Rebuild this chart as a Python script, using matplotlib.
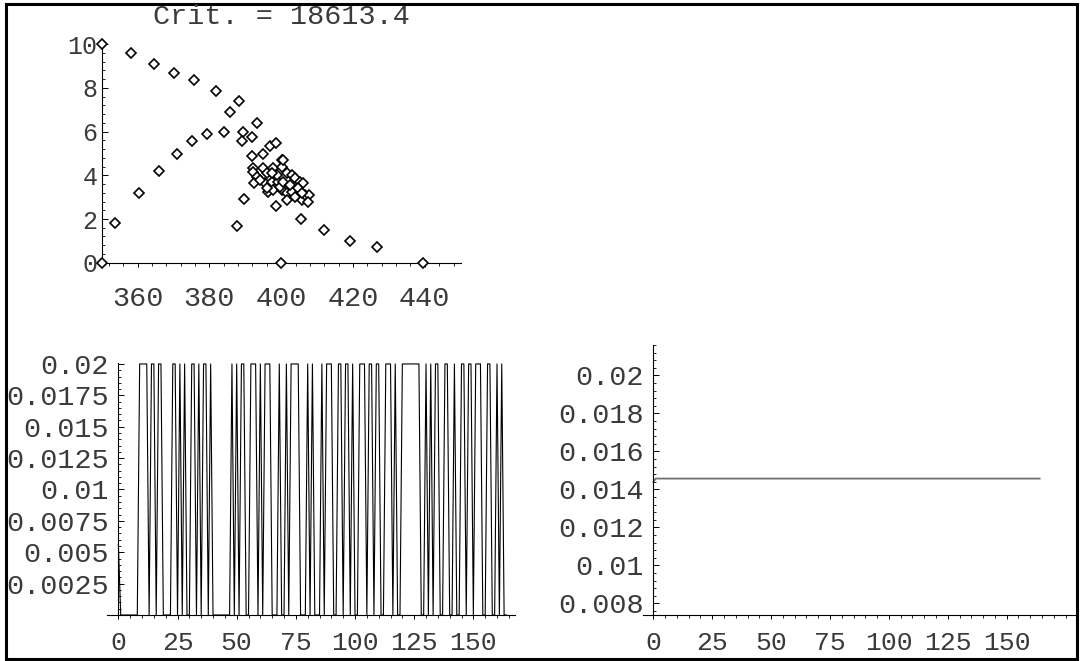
import matplotlib
matplotlib.use('Agg')
import matplotlib.pyplot as plt
from matplotlib.ticker import FixedLocator, MultipleLocator, FixedFormatter
from matplotlib.patches import Rectangle

# ---------------- data ----------------
crit_title = "Crit. = 18613.4"

scatter_x = [350.0, 358.1, 364.6, 370.1, 375.7, 381.8, 388.3, 393.2, 385.7, 384.1,
             379.2, 375.1, 370.9, 366.0, 360.5, 353.7, 350.0, 400.0, 439.5, 426.6,
             419.2, 411.9, 405.4, 398.6, 389.6, 387.6, 389.4, 389.0, 392.0, 396.9,
             398.6, 395.0, 392.0, 400.1,
             392.2, 392.2, 395.0, 393.2, 396.0, 397.8, 400.1, 400.6, 401.7, 402.9,
             403.8, 405.2, 406.2, 392.5, 395.5, 397.4, 396.4, 397.8, 399.2, 400.1,
             401.5, 402.9, 404.8, 405.7, 406.6, 407.8, 407.5, 401.5, 399.7, 398.7,
             397.4, 394.1, 396.0, 400.6, 402.5, 403.8, 405.7]
scatter_y = [10.0, 9.59, 9.08, 8.70, 8.37, 7.88, 7.40, 6.38, 6.88, 5.97,
             5.89, 5.59, 4.98, 4.18, 3.18, 1.80, 0.0, 0.0, 0.0, 0.70,
             1.01, 1.50, 2.00, 2.60, 2.90, 1.70, 6.00, 5.59, 5.77, 5.36,
             5.47, 4.98, 4.90, 4.70,
             4.35, 4.17, 4.32, 3.94, 4.09, 4.32, 4.40, 4.70, 4.09, 4.02,
             3.86, 3.71, 3.63, 3.63, 3.63, 3.71, 3.25, 3.33, 3.71, 3.33,
             3.18, 3.25, 3.41, 2.87, 3.10, 3.10, 2.79, 2.87, 3.48, 4.02,
             4.09, 3.79, 3.41, 3.71, 3.56, 3.02, 3.18]

scatter_xticks = [360, 380, 400, 420, 440]
scatter_yticks = [0, 2, 4, 6, 8, 10]

weights_left = [
    0.0056, 0, 0, 0, 0, 0, 0, 0, 0, 0.02,
    0.02, 0.02, 0.02, 0, 0.02, 0.02, 0, 0.02, 0.02, 0,
    0, 0, 0, 0.02, 0.02, 0, 0.02, 0, 0.02, 0,
    0, 0.02, 0.02, 0, 0.02, 0, 0.02, 0.02, 0, 0.02,
    0, 0, 0, 0, 0, 0, 0, 0, 0.02, 0,
    0.02, 0, 0.02, 0.02, 0, 0, 0.02, 0.02, 0.02, 0,
    0.02, 0, 0.02, 0.02, 0.02, 0, 0, 0, 0.02, 0,
    0, 0.02, 0, 0.02, 0.02, 0.02, 0.02, 0, 0, 0,
    0.02, 0, 0.02, 0, 0, 0, 0.02, 0, 0.02, 0.02,
    0.02, 0, 0, 0.02, 0.02, 0, 0.02, 0.02, 0, 0.02,
    0, 0, 0.02, 0.02, 0.02, 0, 0.02, 0.02, 0, 0.02,
    0.02, 0, 0, 0.02, 0.02, 0.02, 0, 0.02, 0, 0,
    0.02, 0.02, 0.02, 0.02, 0.02, 0.02, 0.02, 0.02, 0, 0,
    0.02, 0, 0.02, 0, 0.02, 0.02, 0, 0, 0.02, 0.02,
    0, 0, 0.02, 0, 0, 0.02, 0.02, 0, 0.02, 0.02,
    0, 0.02, 0.02, 0.02, 0, 0, 0.02, 0.02, 0, 0,
    0.02, 0, 0.02, 0, 0]

weights_right = [
    0.01439, 0.01457, 0.01457, 0.01457, 0.01457, 0.01457, 0.01457, 0.01457, 0.01457, 0.01457,
    0.01457, 0.01457, 0.01457, 0.01457, 0.01457, 0.01457, 0.01457, 0.01457, 0.01457, 0.01457,
    0.01457, 0.01457, 0.01457, 0.01457, 0.01457, 0.01457, 0.01457, 0.01457, 0.01457, 0.01457,
    0.01457, 0.01457, 0.01457, 0.01457, 0.01457, 0.01457, 0.01457, 0.01457, 0.01457, 0.01457,
    0.01457, 0.01457, 0.01457, 0.01457, 0.01457, 0.01457, 0.01457, 0.01457, 0.01457, 0.01457,
    0.01457, 0.01457, 0.01457, 0.01457, 0.01457, 0.01457, 0.01457, 0.01457, 0.01457, 0.01457,
    0.01457, 0.01457, 0.01457, 0.01457, 0.01457, 0.01457, 0.01457, 0.01457, 0.01457, 0.01457,
    0.01457, 0.01457, 0.01457, 0.01457, 0.01457, 0.01457, 0.01457, 0.01457, 0.01457, 0.01457,
    0.01457, 0.01457, 0.01457, 0.01457, 0.01457, 0.01457, 0.01457, 0.01457, 0.01457, 0.01457,
    0.01457, 0.01457, 0.01457, 0.01457, 0.01457, 0.01457, 0.01457, 0.01457, 0.01457, 0.01457,
    0.01457, 0.01457, 0.01457, 0.01457, 0.01457, 0.01457, 0.01457, 0.01457, 0.01457, 0.01457,
    0.01457, 0.01457, 0.01457, 0.01457, 0.01457, 0.01457, 0.01457, 0.01457, 0.01457, 0.01457,
    0.01457, 0.01457, 0.01457, 0.01457, 0.01457, 0.01457, 0.01457, 0.01457, 0.01457, 0.01457,
    0.01457, 0.01457, 0.01457, 0.01457, 0.01457, 0.01457, 0.01457, 0.01457, 0.01457, 0.01457,
    0.01457, 0.01457, 0.01457, 0.01457, 0.01457, 0.01457, 0.01457, 0.01457, 0.01457, 0.01457,
    0.01457, 0.01457, 0.01457, 0.01457, 0.01457, 0.01457, 0.01457, 0.01457, 0.01457, 0.01457,
    0.01457, 0.01457, 0.01457, 0.01457, 0.01457]

step_xticks = [0, 25, 50, 75, 100, 125, 150]
step_xlabels = ["0", "25", "50", "75", "100", "125", "150"]
left_yticks = [0.0025, 0.005, 0.0075, 0.01, 0.0125, 0.015, 0.0175, 0.02]
left_ylabels = ["0.0025", "0.005", "0.0075", "0.01", "0.0125", "0.015", "0.0175", "0.02"]
right_yticks = [0.008, 0.01, 0.012, 0.014, 0.016, 0.018, 0.02]
right_ylabels = ["0.008", "0.01", "0.012", "0.014", "0.016", "0.018", "0.02"]

# ---------------- style ----------------
W, H = 1080, 661
FONT = 'Liberation Mono'
FS = 20.5
TXT = '#3a3a3a'
plt.rcParams['font.family'] = [FONT, 'DejaVu Sans']

fig = plt.figure(figsize=(W / 100, H / 100), dpi=100)
fig.patch.set_facecolor('white')


def px_axes(left, right, top, bottom):
    return fig.add_axes([left / W, 1 - bottom / H, (right - left) / W, (bottom - top) / H])


def mma_style(ax, xpad, ypad, xfs=FS, yfs=FS):
    for s in ('top', 'right'):
        ax.spines[s].set_visible(False)
    for s in ('left', 'bottom'):
        ax.spines[s].set_linewidth(0.8)
        ax.spines[s].set_color('black')
    ax.tick_params(axis='x', which='major', direction='out', length=3, width=0.7,
                   pad=xpad, labelsize=xfs, colors='black', labelcolor=TXT)
    ax.tick_params(axis='x', which='minor', direction='out', length=2, width=0.6)
    ax.tick_params(axis='y', which='major', direction='in', length=4, width=0.7,
                   pad=ypad, labelsize=yfs, colors='black', labelcolor=TXT)
    ax.tick_params(axis='y', which='minor', direction='in', length=2, width=0.6)
    ax.set_facecolor('none')


# ---- top-left scatter ----
ax1 = px_axes(101.7, 460.7, 42.1, 262.7)
ax1.plot(scatter_x, scatter_y, linestyle='none', marker='D', markersize=5.0,
         markerfacecolor='white', markeredgecolor='black', markeredgewidth=1.2,
         clip_on=False, zorder=3)
ax1.set_xlim(350, 450)
ax1.set_ylim(0, 10.1)
ax1.xaxis.set_major_locator(FixedLocator(scatter_xticks))
ax1.xaxis.set_major_formatter(FixedFormatter([str(v) for v in scatter_xticks]))
ax1.xaxis.set_minor_locator(MultipleLocator(4))
ax1.yaxis.set_major_locator(FixedLocator(scatter_yticks))
ax1.yaxis.set_major_formatter(FixedFormatter([str(v) for v in scatter_yticks]))
ax1.yaxis.set_minor_locator(MultipleLocator(0.4))
mma_style(ax1, xpad=14, ypad=3, yfs=18)

# ---- bottom-left step series ----
ax2 = px_axes(107, 515, 362.7, 615)
ax2.plot(range(len(weights_left)), weights_left, color='black', linewidth=0.8)
ax2.set_xlim(-4.8, 167.6)
ax2.set_ylim(0, 0.0201)
ax2.spines['left'].set_position(('data', 0))
ax2.xaxis.set_major_locator(FixedLocator(step_xticks))
ax2.xaxis.set_major_formatter(FixedFormatter(step_xlabels))
ax2.xaxis.set_minor_locator(MultipleLocator(5))
ax2.yaxis.set_major_locator(FixedLocator(left_yticks))
ax2.yaxis.set_major_formatter(FixedFormatter(left_ylabels))
ax2.yaxis.set_minor_locator(MultipleLocator(0.0005))
mma_style(ax2, xpad=8.5, ypad=7, xfs=19)

# ---- bottom-right flat series ----
ax3 = px_axes(643, 1075, 345, 615)
ax3.plot(range(len(weights_right)), weights_right, color='#707070', linewidth=1.3)
ax3.set_xlim(-4.4, 179)
ax3.set_ylim(0.00739, 0.0216)
ax3.spines['left'].set_position(('data', 0))
ax3.xaxis.set_major_locator(FixedLocator(step_xticks))
ax3.xaxis.set_major_formatter(FixedFormatter(step_xlabels))
ax3.xaxis.set_minor_locator(MultipleLocator(5))
ax3.yaxis.set_major_locator(FixedLocator(right_yticks))
ax3.yaxis.set_major_formatter(FixedFormatter(right_ylabels))
ax3.yaxis.set_minor_locator(MultipleLocator(0.0004))
mma_style(ax3, xpad=8.5, ypad=7, xfs=19)

# ---- title and frame ----
fig.text(281 / W, 1 - 17 / H, crit_title, ha='center', va='center',
         fontsize=FS, color=TXT)
fig.add_artist(Rectangle((6 / W, 2 / H), (1077 - 6) / W, (657 - 2) / H,
                         transform=fig.transFigure, fill=False,
                         edgecolor='black', linewidth=2.2))

fig.savefig('out.png', dpi=100, facecolor='white')
